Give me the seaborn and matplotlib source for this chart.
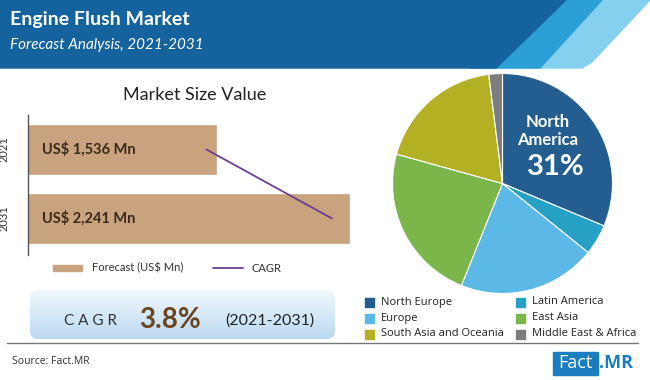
import numpy as np
import pandas as pd
import matplotlib.pyplot as plt
import seaborn as sns
from matplotlib.patches import Polygon, FancyBboxPatch, Rectangle

# market size bars
years = ['2021', '2031']
market_value = [1536, 2241]
value_labels = ['US$ 1,536 Mn', 'US$ 2,241 Mn']
cagr_x = [1480, 2145]
cagr_y = [0, 1]

# regional share pie
regions = ['North Europe', 'Latin America', 'Europe', 'East Asia',
           'South Asia and Oceania', 'Middle East & Africa']
shares = [31.3, 4.5, 20.3, 23.2, 18.7, 2.0]
region_colors = ['#245e91', '#27a0c5', '#5cb9e7', '#7bb64a', '#b3b024', '#7d7d7d']

sns.set_theme(style='white')
plt.rcParams['font.family'] = ['Lato', 'DejaVu Sans']

W, H = 650, 380
fig = plt.figure(figsize=(6.5, 3.8), dpi=100)

# background layer in pixel coords
bg = fig.add_axes([0, 0, 1, 1], zorder=0)
bg.set_facecolor('none')
bg.axis('off')

# header band
bg.add_patch(Polygon([(515, 0), (650, 0), (592, 62), (582, 68), (470, 68)], color='#86d0ef'))
bg.add_patch(Polygon([(530, 0), (602, 0), (540, 68), (470, 68)], color='#2c9fd6'))
bg.add_patch(Polygon([(0, 0), (566, 0), (496, 68), (0, 68)], color='#14639f'))
bg.text(10, 20, 'Engine Flush Market', color='white', fontsize=14, fontweight='bold', va='center')
bg.text(10, 45, 'Forecast Analysis, 2021-2031', color='white', fontsize=11, style='italic', va='center')

bg.text(195, 95, 'Market Size Value', fontsize=13, ha='center', va='center', color='#222222')

# legend under bars
bg.add_patch(Rectangle((53, 265), 29, 6, color='#c9a27e'))
bg.text(92, 268, 'Forecast (US$ Mn)', fontsize=8, va='center', color='#333333')
bg.plot([213, 243], [268, 268], color='#6b3f91', lw=1.3)
bg.text(251, 268, 'CAGR', fontsize=8, va='center', color='#333333')

# CAGR box with gradient
grad = np.linspace(0, 1, 100)[:, None, None]
top_c = np.array([0.95, 0.975, 0.995])
bot_c = np.array([0.73, 0.85, 0.94])
img = top_c * (1 - grad) + bot_c * grad
im = bg.imshow(img, extent=(30, 335, 339, 290), aspect='auto', zorder=1)
box = FancyBboxPatch((30, 290), 305, 49, boxstyle='round,pad=0,rounding_size=8',
                     transform=bg.transData, facecolor='none', edgecolor='none')
bg.add_patch(box)
im.set_clip_path(box)
bg.text(90, 321, 'C A G R', fontsize=11, ha='center', va='center', color='#333333', zorder=2)
bg.text(170, 320, '3.8%', fontsize=20, fontweight='bold', ha='center', va='center',
        color='#6b4521', zorder=2)
bg.text(270, 321, '(2021-2031)', fontsize=11.5, ha='center', va='center', color='#222222', zorder=2)

# footer
bg.plot([7, 638], [343, 343], color='#777777', lw=1)
bg.text(12, 361, 'Source: Fact.MR', fontsize=7.5, va='center', color='#333333', family=['Open Sans'])
bg.add_patch(Rectangle((553, 352), 45, 23, color='#1a7dc0'))
bg.text(575.5, 363.5, 'Fact', color='white', fontsize=13, ha='center', va='center', family=['Open Sans'])
bg.text(599, 363.5, '.MR', color='#1a7dc0', fontsize=13, fontweight='bold', va='center', family=['Open Sans'])

# pie legend
for i, (lab, col) in enumerate(zip(regions, region_colors)):
    cx = 365 if i % 2 == 0 else 516
    cy = 302 + 16 * (i // 2)
    bg.add_patch(Rectangle((cx, cy - 4.5), 9, 9, color=col))
    bg.text(cx + 16, cy, lab, fontsize=8, va='center', color='#222222', family=['Open Sans'])

bg.set_xlim(0, W)
bg.set_ylim(H, 0)

# bar chart
ax = fig.add_axes([28 / W, 1 - 255 / H, (360 - 28) / W, 140 / H], zorder=2)
ax.set_facecolor('none')
df = pd.DataFrame({'year': years, 'value': market_value})
sns.barplot(data=df, x='value', y='year', orient='h', color='#c9a27e',
            saturation=1, width=0.74, ax=ax)
ax.plot(cagr_x, cagr_y, color='#6b3f91', lw=1.3)
for i, lbl in enumerate(value_labels):
    ax.text(0.042, i, lbl, transform=ax.get_yaxis_transform(), fontsize=10.5,
            fontweight='bold', color='#3a2a1c', va='center')
ax.set_xlim(534, 2294)
ax.set_ylim(1.53, -0.5)
ax.set_xticks([])
ax.set_xlabel('')
ax.set_ylabel('')
ax.set_yticks([0, 1])
ax.set_yticklabels(years, rotation=90, va='center', fontsize=8, color='#333333')
ax.tick_params(axis='y', left=False, pad=7)
for s in ['top', 'right', 'bottom']:
    ax.spines[s].set_visible(False)
ax.spines['left'].set_color('#555555')
ax.spines['left'].set_linewidth(1)

# pie chart
pax = fig.add_axes([392.5 / W, 1 - 293.5 / H, 220 / W, 220 / H], zorder=2)
pax.pie(shares, colors=region_colors, startangle=90, counterclock=False,
        wedgeprops=dict(edgecolor='white', linewidth=0.8))
pax.set_xlim(-1, 1)
pax.set_ylim(-1, 1)

fig.text(548 / W, 1 - 122 / H, 'North', color='white', fontsize=12, fontweight='bold',
         ha='center', va='center', zorder=5)
fig.text(548 / W, 1 - 140 / H, 'America', color='white', fontsize=12, fontweight='bold',
         ha='center', va='center', zorder=5)
fig.text(556 / W, 1 - 167 / H, '31%', color='white', fontsize=21, fontweight='bold',
         ha='center', va='center', zorder=5)

fig.savefig('out.png', dpi=100)
